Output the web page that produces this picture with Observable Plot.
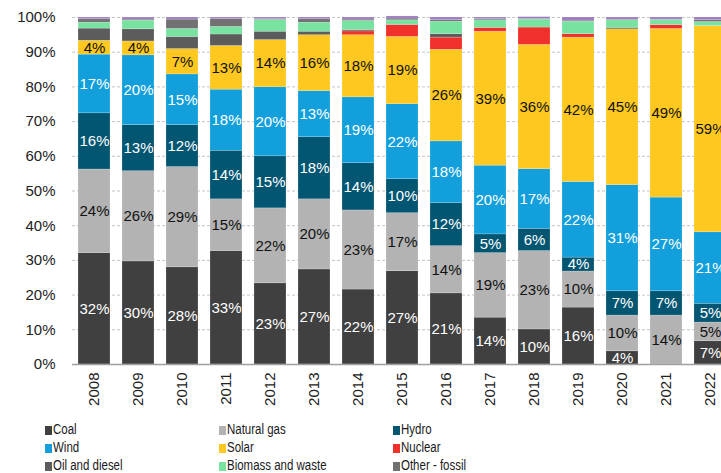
<!DOCTYPE html>
<html>
<head>
<meta charset="utf-8">
<script src="https://cdn.jsdelivr.net/npm/d3@7"></script>
<script src="https://cdn.jsdelivr.net/npm/@observablehq/plot@0.6"></script>
<style>
  html, body { margin: 0; padding: 0; background: #fff; }
  body { width: 721px; height: 473px; overflow: hidden; position: relative; font-family: "Liberation Sans", Arial, sans-serif; }
  #chart { position: absolute; left: 0; top: 0; width: 750px; }
  #chart svg { max-width: none !important; }
  #legend { position: absolute; left: 0; top: 421px; width: 721px; }
  .item { position: absolute; height: 17px; line-height: 17px; font-family: "Liberation Sans", Arial, sans-serif; font-size: 14px; color: #1a1a1a; white-space: nowrap; }
  .sw { display: inline-block; width: 7px; height: 9px; margin-right: 1px; vertical-align: -1px; }
  .tx { display: inline-block; transform: scaleX(0.82); transform-origin: 0 50%; }
</style>
</head>
<body>
<div id="chart"></div>
<div id="legend"></div>
<script>
const years = [2008, 2009, 2010, 2011, 2012, 2013, 2014, 2015, 2016, 2017, 2018, 2019, 2020, 2021, 2022];
const series = ["Coal", "Natural gas", "Hydro", "Wind", "Solar", "Nuclear", "Oil and diesel", "Biomass and waste", "Other - fossil", "Other - renewable"];
const colors = ["#404040", "#b3b3b3", "#035672", "#129fdb", "#fec820", "#f0302a", "#5c5c5c", "#78e3a1", "#717171", "#9c79c2"];
const legendItems = ["Coal", "Natural gas", "Hydro", "Wind", "Solar", "Nuclear", "Oil and diesel", "Biomass and waste", "Other - fossil"];
const yTicks = [0, 10, 20, 30, 40, 50, 60, 70, 80, 90, 100];

const coal      = [32.1, 29.7, 28.0, 32.7, 23.4, 27.4, 21.6, 26.9, 20.5, 13.5, 10.1, 16.4, 3.8, 0, 6.7];
const gas       = [24.1, 26.0, 28.9, 14.9, 21.6, 20.2, 22.8, 16.7, 13.6, 18.6, 22.6, 10.4, 10.3, 14.1, 5.4];
const hydro     = [16.2, 13.3, 12.1, 14.0, 15.0, 17.9, 13.6, 9.8, 12.4, 5.4, 6.4, 4.0, 7.0, 7.0, 5.4];
const wind      = [16.9, 20.1, 14.6, 17.6, 19.9, 13.3, 19.0, 21.6, 17.8, 19.8, 17.2, 21.8, 30.6, 27.0, 20.6];
const solar     = [4.0, 4.0, 7.3, 12.6, 13.6, 16.1, 17.9, 19.4, 26.4, 38.6, 35.8, 41.6, 44.9, 48.6, 59.4];
const nuclear   = [0, 0, 0, 0, 0, 0, 1.1, 3.4, 3.5, 1.1, 5.0, 1.0, 0, 1.1, 0];
const oil       = [3.5, 3.5, 3.5, 3.3, 2.4, 1.0, 0.4, 0.1, 1.0, 0, 0, 0, 0.4, 0, 0];
const biomass   = [1.7, 2.5, 2.3, 2.2, 3.4, 2.6, 2.6, 1.3, 3.6, 2.2, 2.3, 3.6, 2.2, 1.5, 1.2];
const othFossil = [1.0, 0.3, 2.7, 2.2, 0.2, 1.0, 0.4, 0.5, 0.5, 0.3, 0.2, 0.3, 0.2, 0.1, 0.6];
const othRenew  = [0.5, 0.6, 0.6, 0.5, 0.5, 0.5, 0.6, 0.6, 0.7, 0.5, 0.5, 0.9, 0.6, 0.6, 0.7];

const values = [coal, gas, hydro, wind, solar, nuclear, oil, biomass, othFossil, othRenew];
const whiteLabel = ["Coal", "Hydro", "Wind"];
const blackLabel = ["Natural gas", "Solar"];

const data = series.flatMap((s, i) => years.map((y, j) => ({year: String(y), source: s, value: values[i][j]})));

const lab = (set) => d => (set.includes(d.source) && d.value >= 1.5) ? Math.round(d.value) + "%" : "";

const chart = Plot.plot({
  width: 750,
  height: 420,
  marginLeft: 72,
  marginRight: 18,
  marginTop: 17,
  marginBottom: 56,
  style: {fontFamily: "'Liberation Sans', Arial, sans-serif", fontSize: "15px", background: "white", color: "#222", maxWidth: "none"},
  x: {domain: years.map(String), paddingInner: 0.273, paddingOuter: 0.136, label: null, tickSize: 0, tickRotate: -90, tickPadding: 8},
  y: {domain: [0, 100], ticks: yTicks, tickFormat: d => d + "%", label: null, tickSize: 0, tickPadding: 17},
  color: {domain: series, range: colors},
  marks: [
    Plot.ruleY(yTicks.filter(d => d > 0), {stroke: "#c4c4c4", strokeDasharray: "3,2"}),
    Plot.barY(data, {x: "year", y: "value", fill: "source", stroke: "white", strokeOpacity: 0.3, strokeWidth: 0.6}),
    Plot.ruleY([0], {stroke: "#a0a0a0", strokeWidth: 1.5}),
    Plot.text(data, Plot.stackY({x: "year", y: "value", z: "source", text: lab(whiteLabel), fill: "white", fontSize: 15})),
    Plot.text(data, Plot.stackY({x: "year", y: "value", z: "source", text: lab(blackLabel), fill: "#111", fontSize: 15}))
  ]
});
document.getElementById("chart").appendChild(chart);

const legend = document.getElementById("legend");
const colX = [45, 219, 393];
legendItems.forEach((name, k) => {
  const div = document.createElement("div");
  div.className = "item";
  div.style.left = colX[k % 3] + "px";
  div.style.top = (Math.floor(k / 3) * 18) + "px";
  const sw = document.createElement("span");
  sw.className = "sw";
  sw.style.background = colors[series.indexOf(name)];
  div.appendChild(sw);
  const tx = document.createElement("span");
  tx.className = "tx";
  tx.textContent = name;
  div.appendChild(tx);
  legend.appendChild(div);
});
</script>
</body>
</html>
